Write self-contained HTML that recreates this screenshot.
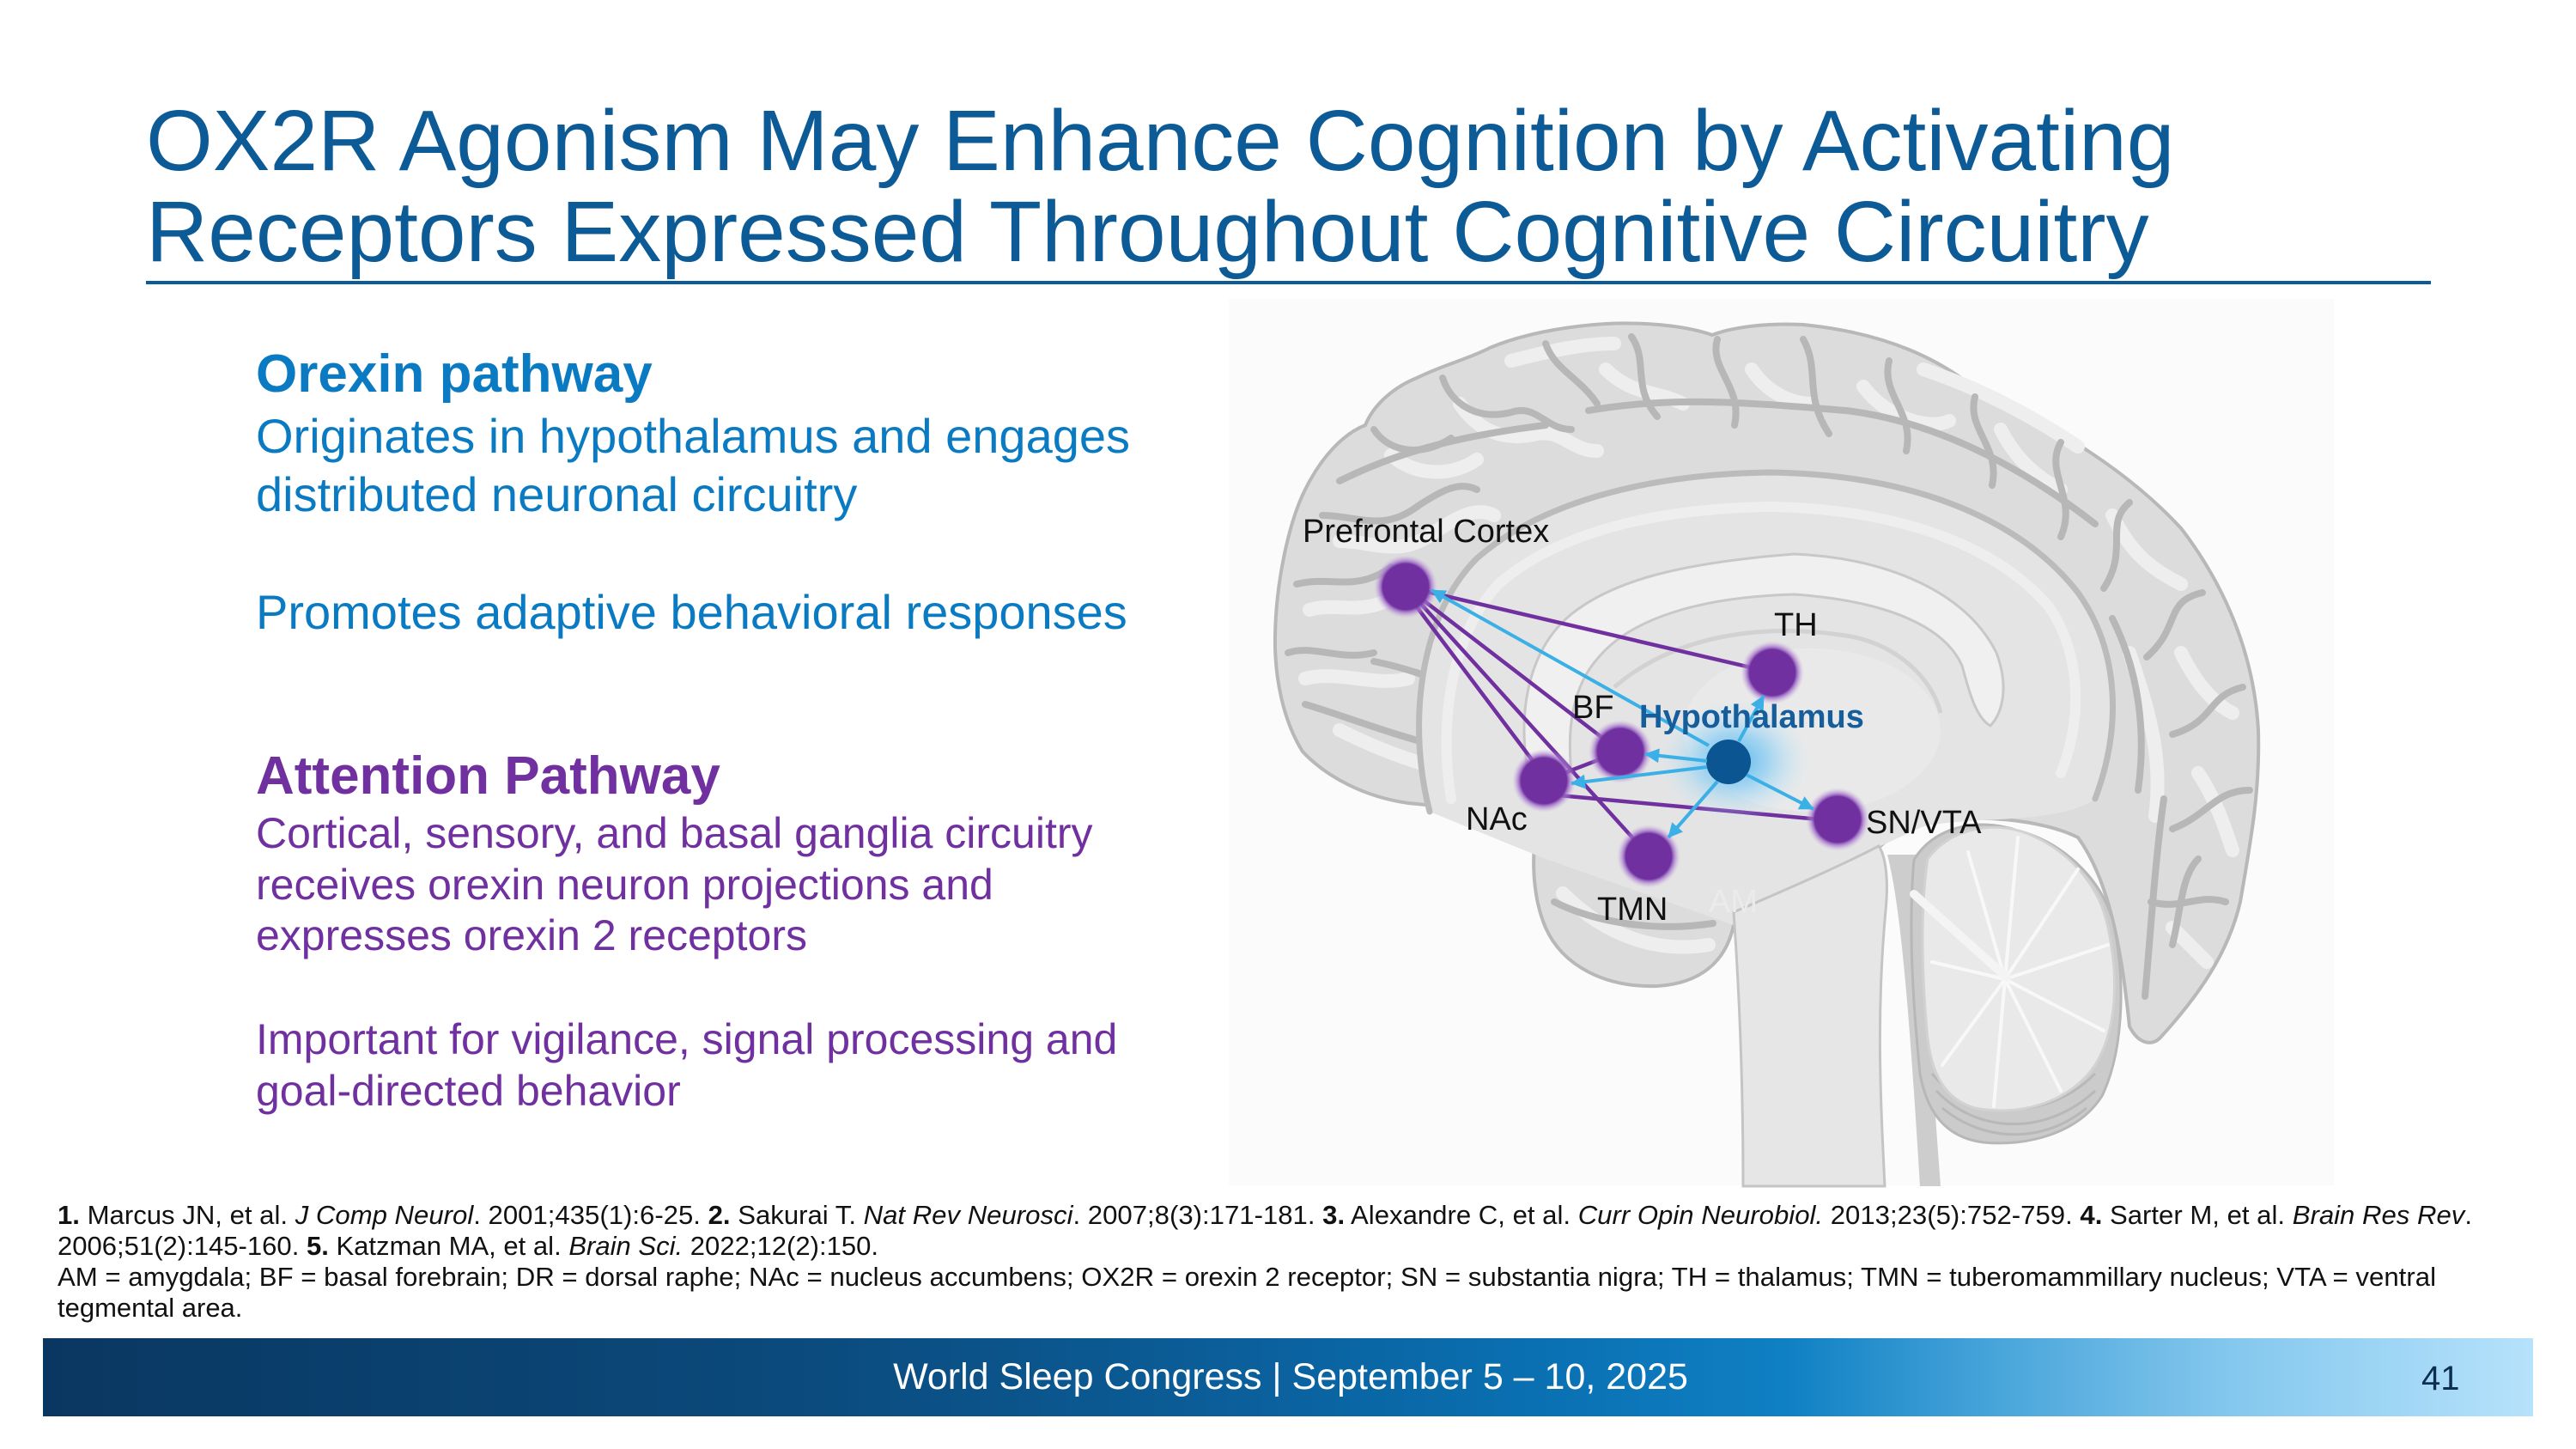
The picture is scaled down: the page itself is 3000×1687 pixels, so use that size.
<!DOCTYPE html>
<html>
<head>
<meta charset="utf-8">
<style>
  html,body{margin:0;padding:0;background:#fff;}
  body{width:3000px;height:1687px;overflow:hidden;}
  svg{display:block;}
  text{font-family:"Liberation Sans", Arial, sans-serif;}
</style>
</head>
<body>
<svg xmlns="http://www.w3.org/2000/svg" width="3000" height="1687" viewBox="0 0 3000 1687">
  <defs>
    <linearGradient id="fg" x1="0" y1="0" x2="1" y2="0">
      <stop offset="0" stop-color="#0a3761"/>
      <stop offset="0.30" stop-color="#0b4a7c"/>
      <stop offset="0.45" stop-color="#0b5b95"/>
      <stop offset="0.60" stop-color="#0a70b2"/>
      <stop offset="0.70" stop-color="#0f80c3"/>
      <stop offset="0.78" stop-color="#45a3d9"/>
      <stop offset="0.88" stop-color="#85c8ee"/>
      <stop offset="1" stop-color="#b6e2fb"/>
    </linearGradient>
    <radialGradient id="pg" cx="0.5" cy="0.5" r="0.5">
      <stop offset="0" stop-color="#7030a0"/>
      <stop offset="0.72" stop-color="#7030a0"/>
      <stop offset="0.80" stop-color="#9c68c6" stop-opacity="0.8"/>
      <stop offset="1" stop-color="#d2b6e6" stop-opacity="0"/>
    </radialGradient>
    <radialGradient id="hg" cx="0.5" cy="0.5" r="0.5">
      <stop offset="0" stop-color="#4fb3ec" stop-opacity="0.95"/>
      <stop offset="0.45" stop-color="#86ccf3" stop-opacity="0.7"/>
      <stop offset="1" stop-color="#c6e8fa" stop-opacity="0"/>
    </radialGradient>
    <marker id="ah" viewBox="0 0 10 10" refX="9.5" refY="5" markerWidth="17" markerHeight="17" markerUnits="userSpaceOnUse" orient="auto">
      <path d="M0,0 L10,5 L0,10 z" fill="#3bb0e6"/>
    </marker>
  </defs>

  <rect width="3000" height="1687" fill="#ffffff"/>

  <!-- Title -->
  <text x="170" y="198" font-size="100" fill="#0c5a96">OX2R Agonism May Enhance Cognition by Activating</text>
  <text x="170" y="304" font-size="100" fill="#0c5a96">Receptors Expressed Throughout Cognitive Circuitry</text>
  <rect x="170" y="327" width="2661" height="4" fill="#0c5a96"/>

  <!-- Left text -->
  <text x="298" y="456" font-size="62" font-weight="bold" fill="#0a7bc2">Orexin pathway</text>
  <text x="298" y="527" font-size="56" fill="#0a7bc2">Originates in hypothalamus and engages</text>
  <text x="298" y="595" font-size="56" fill="#0a7bc2">distributed neuronal circuitry</text>
  <text x="298" y="732" font-size="56" fill="#0a7bc2">Promotes adaptive behavioral responses</text>

  <text x="298" y="924" font-size="62" font-weight="bold" fill="#7030a0">Attention Pathway</text>
  <text x="298" y="987" font-size="50" fill="#7030a0">Cortical, sensory, and basal ganglia circuitry</text>
  <text x="298" y="1047" font-size="50" fill="#7030a0">receives orexin neuron projections and</text>
  <text x="298" y="1106" font-size="50" fill="#7030a0">expresses orexin 2 receptors</text>
  <text x="298" y="1227" font-size="50" fill="#7030a0">Important for vigilance, signal processing and</text>
  <text x="298" y="1287" font-size="50" fill="#7030a0">goal-directed behavior</text>

  <!-- Brain picture -->
  <rect x="1431" y="348" width="1287" height="1032" fill="#fbfbfb"/>

  <!-- cerebrum -->
  <path d="M1517 875 C1495 840 1484 790 1485 740 C1486 680 1500 610 1520 570 C1540 530 1565 505 1590 495 C1600 470 1625 450 1650 440 C1680 425 1710 418 1735 405 C1770 390 1820 380 1870 377 C1910 375 1960 378 1994 390 C2020 380 2060 376 2100 378 C2200 388 2260 420 2300 452 C2400 500 2480 550 2540 615 C2590 680 2625 760 2630 850 C2632 920 2622 975 2609 1050 C2595 1110 2560 1160 2515 1209 C2505 1218 2490 1215 2480 1195 C2472 1120 2460 1030 2420 975 C2380 955 2300 945 2240 960 C2215 968 2200 975 2190 985 C2150 1010 2080 1040 2019 1077 C2010 1120 1980 1145 1930 1148 C1870 1150 1820 1125 1800 1080 C1785 1045 1783 1000 1790 960 C1750 945 1690 940 1640 935 C1590 928 1545 905 1517 875 Z" fill="#dcdcdc" stroke="#b8b8b8" stroke-width="4"/>

  <!-- gyri highlights -->
  <g fill="none" stroke="#eeeeee" stroke-width="16" stroke-linecap="round">
    <path d="M1520 790 C1560 780 1600 800 1640 790"/>
    <path d="M1525 710 C1560 700 1590 720 1630 690"/>
    <path d="M1560 630 C1600 630 1630 650 1670 620 C1700 600 1720 590 1740 600"/>
    <path d="M1620 530 C1650 555 1690 555 1720 535"/>
    <path d="M1700 470 C1720 500 1750 515 1790 505 C1820 500 1830 525 1860 525"/>
    <path d="M1870 430 C1900 460 1930 455 1960 470"/>
    <path d="M2040 430 C2060 460 2090 470 2110 470"/>
    <path d="M2170 450 C2200 490 2250 500 2270 490"/>
    <path d="M2330 500 C2350 540 2380 560 2400 570"/>
    <path d="M2460 600 C2480 640 2500 660 2540 680"/>
    <path d="M2540 760 C2560 800 2580 820 2600 830"/>
    <path d="M2560 900 C2580 930 2590 960 2600 990"/>
    <path d="M2530 1080 C2550 1100 2560 1110 2570 1120"/>
    <path d="M1560 850 C1600 870 1650 890 1700 900"/>
    <path d="M1820 1040 C1870 1090 1930 1110 1990 1100"/>
    <path d="M2480 760 C2500 820 2520 880 2510 950"/>
    <path d="M1760 420 C1800 410 1840 400 1880 400"/>
    <path d="M2240 430 C2300 450 2360 480 2420 520"/>
  </g>
  <!-- sulci -->
  <g fill="none" stroke="#b7b7b7" stroke-width="8" stroke-linecap="round">
    <path d="M1500 760 C1530 750 1560 770 1600 760"/>
    <path d="M1510 680 C1550 670 1580 690 1620 660"/>
    <path d="M1540 600 C1580 600 1610 620 1650 590 C1680 570 1700 560 1720 570"/>
    <path d="M1600 500 C1620 530 1660 530 1690 510"/>
    <path d="M1680 440 C1690 470 1720 490 1760 480 C1790 470 1800 500 1830 500"/>
    <path d="M1800 400 C1810 430 1840 440 1860 470"/>
    <path d="M1900 392 C1920 420 1900 450 1930 485"/>
    <path d="M2000 395 C1990 430 2030 450 2020 495"/>
    <path d="M2100 395 C2120 430 2100 460 2130 505"/>
    <path d="M2200 420 C2190 460 2230 480 2220 525"/>
    <path d="M2300 462 C2290 500 2330 520 2320 565"/>
    <path d="M2400 515 C2380 550 2420 580 2400 625"/>
    <path d="M2480 585 C2450 610 2480 640 2450 685"/>
    <path d="M2565 690 C2520 700 2540 730 2500 765"/>
    <path d="M2612 800 C2570 810 2580 840 2530 855"/>
    <path d="M2620 920 C2580 920 2570 950 2530 965"/>
    <path d="M2592 1050 C2560 1040 2540 1060 2505 1050"/>
    <path d="M1560 560 C1640 520 1720 505 1800 495"/>
    <path d="M1850 478 C1950 460 2050 470 2150 478 C2250 490 2350 540 2440 610"/>
    <path d="M2520 930 C2510 1000 2505 1080 2498 1160"/>
    <path d="M1520 820 C1570 835 1620 855 1680 870"/>
    <path d="M1600 770 C1650 780 1700 800 1760 830"/>
    <path d="M1810 1050 C1860 1075 1930 1085 1995 1075"/>
    <path d="M2460 720 C2490 780 2500 850 2490 920"/>
    <path d="M2560 1000 C2540 1020 2540 1060 2530 1100"/>
  </g>

  <!-- medial inner region -->
  <path d="M1665 945 C1640 850 1650 720 1720 650 C1800 580 1930 552 2060 550 C2220 552 2350 600 2420 690 C2470 760 2470 850 2440 930 C2400 960 2300 950 2240 962 L2190 985 C2150 1010 2080 1040 2019 1077 L1800 1000 Z" fill="#e4e4e4"/>
  <path d="M1665 945 C1640 850 1650 720 1720 650 C1800 580 1930 552 2060 550 C2220 552 2350 600 2420 690 C2470 760 2470 850 2440 930" fill="none" stroke="#bbbbbb" stroke-width="7" stroke-linecap="round"/>
  <path d="M1690 930 C1675 840 1690 740 1745 680 C1820 615 1940 592 2060 590 C2200 592 2320 630 2385 705 C2425 760 2425 840 2400 900" fill="none" stroke="#eeeeee" stroke-width="12" stroke-linecap="round"/>
  <!-- corpus callosum -->
  <path d="M1780 900 C1768 840 1775 760 1830 715 C1880 675 1960 655 2090 645 C2200 650 2290 690 2325 760 C2340 800 2332 830 2318 845 C2300 835 2292 800 2285 775 C2265 730 2200 700 2090 692 C1980 695 1900 720 1862 765 C1830 800 1825 850 1830 900 Z" fill="#f0f0f0" stroke="#c8c8c8" stroke-width="3"/>
  <ellipse cx="2110" cy="850" rx="150" ry="95" fill="#e9e9e9"/>
  <path d="M1880 800 C1950 740 2050 725 2150 740 C2210 750 2250 790 2260 830" fill="none" stroke="#d2d2d2" stroke-width="5"/>

  <!-- brainstem -->
  <path d="M2019 1062 C2026 1160 2030 1260 2030 1381 L2195 1381 C2190 1280 2185 1180 2196 1060 C2200 1020 2195 995 2188 985 C2140 1010 2070 1040 2019 1062 Z" fill="#e6e6e6" stroke="#c4c4c4" stroke-width="3"/>
  <path d="M2198 995 C2212 1050 2222 1150 2236 1381 L2260 1381 C2250 1250 2242 1120 2236 995 Z" fill="#cdcdcd"/>

  <!-- cerebellum -->
  <path d="M2229 1001 C2250 965 2300 950 2350 967 C2400 980 2445 1020 2460 1070 C2475 1130 2475 1220 2448 1276 C2420 1320 2360 1335 2310 1330 C2270 1325 2245 1300 2236 1250 C2228 1170 2222 1080 2229 1001 Z" fill="#cbcbcb" stroke="#b7b7b7" stroke-width="3"/>
  <g fill="none" stroke="#b8b8b8" stroke-width="3">
    <path d="M2250 1250 C2290 1300 2380 1310 2440 1250"/>
    <path d="M2255 1270 C2300 1318 2380 1325 2440 1270"/>
    <path d="M2262 1290 C2310 1330 2380 1332 2430 1290"/>
  </g>
  <path d="M2245 1000 C2270 965 2320 955 2360 970 C2410 990 2445 1030 2455 1080 C2468 1140 2465 1200 2440 1240 C2410 1285 2350 1300 2300 1290 C2265 1280 2248 1250 2244 1200 C2238 1130 2236 1060 2245 1000 Z" fill="#e9e9e9" stroke="#d2d2d2" stroke-width="3"/>
  <g fill="none" stroke="#f8f8f8" stroke-width="4" stroke-linecap="round">
    <path d="M2335 1140 L2292 992"/>
    <path d="M2335 1140 L2350 975"/>
    <path d="M2335 1140 L2420 1012"/>
    <path d="M2335 1140 L2455 1100"/>
    <path d="M2335 1140 L2450 1200"/>
    <path d="M2335 1140 L2400 1270"/>
    <path d="M2335 1140 L2322 1288"/>
    <path d="M2335 1140 L2262 1240"/>
    <path d="M2335 1140 L2250 1120"/>
  </g>
  <path d="M2229 1041 L2337 1138" stroke="#f4f4f4" stroke-width="10" stroke-linecap="round"/>

  <!-- purple connections -->
  <g stroke="#7030a0" stroke-width="4.5" stroke-linecap="round" fill="none">
    <path d="M1637 683 L2064 783"/>
    <path d="M1637 683 L1887 875"/>
    <path d="M1645 700 L1792 895"/>
    <path d="M1652 700 L1910 985"/>
    <path d="M1887 875 L1798 909"/>
    <path d="M1805 925 L2130 955"/>
  </g>

  <!-- hypothalamus glow -->
  <ellipse cx="2020" cy="885" rx="88" ry="70" fill="url(#hg)"/>

  <!-- nodes -->
  <circle cx="1637" cy="683" r="37" fill="url(#pg)"/>
  <circle cx="2064" cy="783" r="37" fill="url(#pg)"/>
  <circle cx="1887" cy="875" r="37" fill="url(#pg)"/>
  <circle cx="1798" cy="909" r="37" fill="url(#pg)"/>
  <circle cx="2140" cy="954" r="37" fill="url(#pg)"/>
  <circle cx="1920" cy="997" r="37" fill="url(#pg)"/>
  <circle cx="2013" cy="887" r="26" fill="#0b5592"/>

  <!-- blue arrows -->
  <g stroke="#3bb0e6" stroke-width="4" fill="none" marker-end="url(#ah)">
    <path d="M1990 868 L1667 687"/>
    <path d="M2025 863 L2054 810"/>
    <path d="M1988 886 L1916 878"/>
    <path d="M1988 893 L1830 912"/>
    <path d="M2034 902 L2112 942"/>
    <path d="M2000 910 L1943 975"/>
  </g>

  <!-- labels -->
  <text x="1517" y="631" font-size="38" fill="#111">Prefrontal Cortex</text>
  <text x="2066" y="740" font-size="38" fill="#111">TH</text>
  <text x="1831" y="836" font-size="38" fill="#111">BF</text>
  <text x="1909" y="847" font-size="38" font-weight="bold" fill="#155d9b">Hypothalamus</text>
  <text x="1707" y="966" font-size="38" fill="#111">NAc</text>
  <text x="2173" y="970" font-size="38" fill="#111">SN/VTA</text>
  <text x="1860" y="1071" font-size="38" fill="#111">TMN</text>
  <text x="1990" y="1062" font-size="38" fill="#ebebeb">AM</text>

  <!-- footnotes -->
  <text x="67" y="1425" font-size="31" fill="#111" textLength="2812" lengthAdjust="spacingAndGlyphs"><tspan font-weight="bold">1.</tspan> Marcus JN, et al. <tspan font-style="italic">J Comp Neurol</tspan>. 2001;435(1):6-25. <tspan font-weight="bold">2.</tspan> Sakurai T. <tspan font-style="italic">Nat Rev Neurosci</tspan>. 2007;8(3):171-181. <tspan font-weight="bold">3.</tspan> Alexandre C, et al. <tspan font-style="italic">Curr Opin Neurobiol.</tspan> 2013;23(5):752-759. <tspan font-weight="bold">4.</tspan> Sarter M, et al. <tspan font-style="italic">Brain Res Rev</tspan>.</text>
  <text x="67" y="1461" font-size="31" fill="#111" textLength="956" lengthAdjust="spacingAndGlyphs">2006;51(2):145-160. <tspan font-weight="bold">5.</tspan> Katzman MA, et al. <tspan font-style="italic">Brain Sci.</tspan> 2022;12(2):150.</text>
  <text x="67" y="1497" font-size="31" fill="#111" textLength="2770" lengthAdjust="spacingAndGlyphs">AM = amygdala; BF = basal forebrain; DR = dorsal raphe; NAc = nucleus accumbens; OX2R = orexin 2 receptor; SN = substantia nigra; TH = thalamus; TMN = tuberomammillary nucleus; VTA = ventral</text>
  <text x="67" y="1533" font-size="31" fill="#111">tegmental area.</text>

  <!-- footer -->
  <rect x="50" y="1558" width="2900" height="91" fill="url(#fg)"/>
  <text x="1503" y="1617" font-size="43" fill="#ffffff" text-anchor="middle">World Sleep Congress | September 5 – 10, 2025</text>
  <text x="2820" y="1618" font-size="40" fill="#0d2e50">41</text>
</svg>
</body>
</html>
